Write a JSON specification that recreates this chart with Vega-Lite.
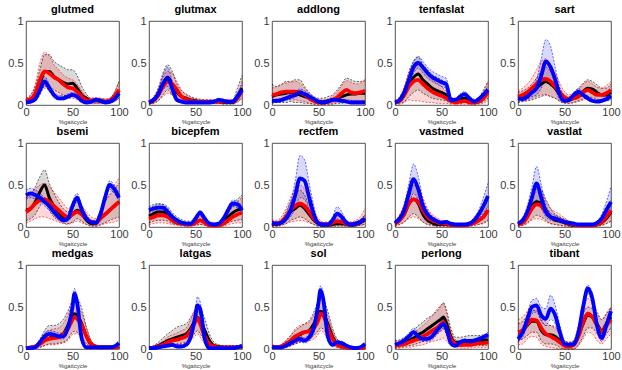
{
"$schema":"https://vega.github.io/schema/vega-lite/v6.json",
"background":"white",
"padding":{"left":7,"top":3,"right":2,"bottom":2},
"data":{"values":[
{"m":"glutmed","x":0,"k":0.05,"kl":0.02,"kh":0.08,"r":0.05,"rl":0.02,"rh":0.08,"b":0.03,"bl":0.02,"bh":0.04},
{"m":"glutmed","x":5,"k":0.07,"kl":0.03,"kh":0.12,"r":0.07,"rl":0.03,"rh":0.12,"b":0.04,"bl":0.03,"bh":0.06},
{"m":"glutmed","x":10,"k":0.12,"kl":0.05,"kh":0.22,"r":0.14,"rl":0.06,"rh":0.25,"b":0.07,"bl":0.05,"bh":0.10},
{"m":"glutmed","x":15,"k":0.25,"kl":0.12,"kh":0.42,"r":0.30,"rl":0.15,"rh":0.50,"b":0.18,"bl":0.14,"bh":0.23},
{"m":"glutmed","x":20,"k":0.40,"kl":0.22,"kh":0.60,"r":0.40,"rl":0.20,"rh":0.63,"b":0.28,"bl":0.23,"bh":0.34},
{"m":"glutmed","x":25,"k":0.40,"kl":0.22,"kh":0.60,"r":0.38,"rl":0.20,"rh":0.58,"b":0.20,"bl":0.16,"bh":0.25},
{"m":"glutmed","x":30,"k":0.34,"kl":0.18,"kh":0.52,"r":0.33,"rl":0.15,"rh":0.48,"b":0.12,"bl":0.09,"bh":0.15},
{"m":"glutmed","x":35,"k":0.30,"kl":0.15,"kh":0.48,"r":0.30,"rl":0.12,"rh":0.42,"b":0.08,"bl":0.06,"bh":0.11},
{"m":"glutmed","x":40,"k":0.27,"kl":0.12,"kh":0.45,"r":0.25,"rl":0.10,"rh":0.36,"b":0.08,"bl":0.06,"bh":0.11},
{"m":"glutmed","x":45,"k":0.25,"kl":0.10,"kh":0.42,"r":0.21,"rl":0.08,"rh":0.32,"b":0.10,"bl":0.08,"bh":0.13},
{"m":"glutmed","x":50,"k":0.26,"kl":0.10,"kh":0.42,"r":0.20,"rl":0.08,"rh":0.30,"b":0.12,"bl":0.10,"bh":0.15},
{"m":"glutmed","x":55,"k":0.20,"kl":0.08,"kh":0.35,"r":0.16,"rl":0.06,"rh":0.25,"b":0.10,"bl":0.08,"bh":0.12},
{"m":"glutmed","x":60,"k":0.12,"kl":0.05,"kh":0.22,"r":0.10,"rl":0.03,"rh":0.17,"b":0.05,"bl":0.04,"bh":0.07},
{"m":"glutmed","x":65,"k":0.08,"kl":0.03,"kh":0.13,"r":0.06,"rl":0.02,"rh":0.10,"b":0.03,"bl":0.02,"bh":0.05},
{"m":"glutmed","x":70,"k":0.05,"kl":0.02,"kh":0.08,"r":0.05,"rl":0.02,"rh":0.08,"b":0.04,"bl":0.03,"bh":0.06},
{"m":"glutmed","x":75,"k":0.05,"kl":0.02,"kh":0.08,"r":0.06,"rl":0.02,"rh":0.09,"b":0.06,"bl":0.05,"bh":0.08},
{"m":"glutmed","x":80,"k":0.05,"kl":0.02,"kh":0.08,"r":0.05,"rl":0.02,"rh":0.08,"b":0.05,"bl":0.04,"bh":0.07},
{"m":"glutmed","x":85,"k":0.04,"kl":0.02,"kh":0.07,"r":0.04,"rl":0.02,"rh":0.07,"b":0.03,"bl":0.02,"bh":0.05},
{"m":"glutmed","x":90,"k":0.05,"kl":0.02,"kh":0.08,"r":0.05,"rl":0.02,"rh":0.08,"b":0.04,"bl":0.03,"bh":0.06},
{"m":"glutmed","x":95,"k":0.09,"kl":0.04,"kh":0.15,"r":0.10,"rl":0.04,"rh":0.15,"b":0.07,"bl":0.05,"bh":0.10},
{"m":"glutmed","x":100,"k":0.17,"kl":0.08,"kh":0.28,"r":0.18,"rl":0.08,"rh":0.28,"b":0.14,"bl":0.11,"bh":0.18},
{"m":"glutmax","x":0,"k":0.03,"kl":0.01,"kh":0.05,"r":0.03,"rl":0.01,"rh":0.05,"b":0.03,"bl":0.02,"bh":0.04},
{"m":"glutmax","x":5,"k":0.05,"kl":0.02,"kh":0.09,"r":0.06,"rl":0.02,"rh":0.10,"b":0.06,"bl":0.04,"bh":0.08},
{"m":"glutmax","x":10,"k":0.12,"kl":0.05,"kh":0.20,"r":0.12,"rl":0.05,"rh":0.20,"b":0.13,"bl":0.09,"bh":0.18},
{"m":"glutmax","x":15,"k":0.25,"kl":0.12,"kh":0.38,"r":0.22,"rl":0.10,"rh":0.33,"b":0.25,"bl":0.18,"bh":0.35},
{"m":"glutmax","x":20,"k":0.33,"kl":0.18,"kh":0.48,"r":0.28,"rl":0.14,"rh":0.40,"b":0.32,"bl":0.22,"bh":0.45},
{"m":"glutmax","x":25,"k":0.25,"kl":0.12,"kh":0.40,"r":0.25,"rl":0.12,"rh":0.38,"b":0.20,"bl":0.14,"bh":0.28},
{"m":"glutmax","x":30,"k":0.15,"kl":0.07,"kh":0.25,"r":0.18,"rl":0.08,"rh":0.28,"b":0.06,"bl":0.04,"bh":0.09},
{"m":"glutmax","x":35,"k":0.10,"kl":0.04,"kh":0.17,"r":0.10,"rl":0.05,"rh":0.18,"b":0.04,"bl":0.03,"bh":0.06},
{"m":"glutmax","x":40,"k":0.08,"kl":0.03,"kh":0.13,"r":0.07,"rl":0.03,"rh":0.12,"b":0.03,"bl":0.02,"bh":0.04},
{"m":"glutmax","x":45,"k":0.06,"kl":0.02,"kh":0.10,"r":0.05,"rl":0.02,"rh":0.09,"b":0.03,"bl":0.02,"bh":0.04},
{"m":"glutmax","x":50,"k":0.05,"kl":0.02,"kh":0.08,"r":0.04,"rl":0.02,"rh":0.07,"b":0.03,"bl":0.02,"bh":0.04},
{"m":"glutmax","x":55,"k":0.04,"kl":0.02,"kh":0.07,"r":0.04,"rl":0.02,"rh":0.06,"b":0.03,"bl":0.02,"bh":0.04},
{"m":"glutmax","x":60,"k":0.04,"kl":0.02,"kh":0.06,"r":0.04,"rl":0.02,"rh":0.06,"b":0.03,"bl":0.02,"bh":0.04},
{"m":"glutmax","x":65,"k":0.04,"kl":0.02,"kh":0.06,"r":0.04,"rl":0.02,"rh":0.06,"b":0.03,"bl":0.02,"bh":0.04},
{"m":"glutmax","x":70,"k":0.04,"kl":0.02,"kh":0.06,"r":0.04,"rl":0.02,"rh":0.06,"b":0.04,"bl":0.03,"bh":0.05},
{"m":"glutmax","x":75,"k":0.04,"kl":0.02,"kh":0.06,"r":0.04,"rl":0.02,"rh":0.06,"b":0.06,"bl":0.05,"bh":0.08},
{"m":"glutmax","x":80,"k":0.03,"kl":0.01,"kh":0.05,"r":0.04,"rl":0.02,"rh":0.06,"b":0.05,"bl":0.04,"bh":0.07},
{"m":"glutmax","x":85,"k":0.03,"kl":0.01,"kh":0.05,"r":0.04,"rl":0.02,"rh":0.06,"b":0.04,"bl":0.03,"bh":0.05},
{"m":"glutmax","x":90,"k":0.03,"kl":0.01,"kh":0.06,"r":0.04,"rl":0.02,"rh":0.06,"b":0.04,"bl":0.03,"bh":0.06},
{"m":"glutmax","x":95,"k":0.10,"kl":0.04,"kh":0.20,"r":0.08,"rl":0.03,"rh":0.14,"b":0.10,"bl":0.07,"bh":0.14},
{"m":"glutmax","x":100,"k":0.20,"kl":0.08,"kh":0.35,"r":0.17,"rl":0.08,"rh":0.28,"b":0.18,"bl":0.13,"bh":0.24},
{"m":"addlong","x":0,"k":0.10,"kl":0.02,"kh":0.25,"r":0.12,"rl":0.04,"rh":0.20,"b":0.05,"bl":0.03,"bh":0.07},
{"m":"addlong","x":5,"k":0.12,"kl":0.03,"kh":0.22,"r":0.13,"rl":0.05,"rh":0.22,"b":0.05,"bl":0.03,"bh":0.07},
{"m":"addlong","x":10,"k":0.13,"kl":0.03,"kh":0.24,"r":0.15,"rl":0.06,"rh":0.25,"b":0.06,"bl":0.04,"bh":0.08},
{"m":"addlong","x":15,"k":0.14,"kl":0.03,"kh":0.28,"r":0.16,"rl":0.06,"rh":0.26,"b":0.08,"bl":0.06,"bh":0.10},
{"m":"addlong","x":20,"k":0.15,"kl":0.04,"kh":0.28,"r":0.16,"rl":0.06,"rh":0.27,"b":0.10,"bl":0.07,"bh":0.13},
{"m":"addlong","x":25,"k":0.14,"kl":0.03,"kh":0.30,"r":0.16,"rl":0.06,"rh":0.28,"b":0.12,"bl":0.09,"bh":0.15},
{"m":"addlong","x":30,"k":0.12,"kl":0.03,"kh":0.30,"r":0.15,"rl":0.05,"rh":0.26,"b":0.15,"bl":0.11,"bh":0.19},
{"m":"addlong","x":35,"k":0.10,"kl":0.02,"kh":0.22,"r":0.12,"rl":0.04,"rh":0.20,"b":0.13,"bl":0.10,"bh":0.17},
{"m":"addlong","x":40,"k":0.08,"kl":0.02,"kh":0.15,"r":0.08,"rl":0.02,"rh":0.14,"b":0.10,"bl":0.07,"bh":0.13},
{"m":"addlong","x":45,"k":0.05,"kl":0.01,"kh":0.10,"r":0.05,"rl":0.01,"rh":0.09,"b":0.07,"bl":0.05,"bh":0.09},
{"m":"addlong","x":50,"k":0.04,"kl":0.01,"kh":0.08,"r":0.03,"rl":0.01,"rh":0.06,"b":0.04,"bl":0.02,"bh":0.06},
{"m":"addlong","x":55,"k":0.04,"kl":0.01,"kh":0.08,"r":0.03,"rl":0.01,"rh":0.06,"b":0.03,"bl":0.02,"bh":0.05},
{"m":"addlong","x":60,"k":0.05,"kl":0.01,"kh":0.10,"r":0.04,"rl":0.01,"rh":0.07,"b":0.04,"bl":0.02,"bh":0.06},
{"m":"addlong","x":65,"k":0.06,"kl":0.01,"kh":0.12,"r":0.06,"rl":0.02,"rh":0.10,"b":0.06,"bl":0.04,"bh":0.08},
{"m":"addlong","x":70,"k":0.08,"kl":0.02,"kh":0.18,"r":0.09,"rl":0.03,"rh":0.15,"b":0.06,"bl":0.04,"bh":0.08},
{"m":"addlong","x":75,"k":0.10,"kl":0.02,"kh":0.25,"r":0.14,"rl":0.05,"rh":0.23,"b":0.05,"bl":0.03,"bh":0.07},
{"m":"addlong","x":80,"k":0.12,"kl":0.03,"kh":0.32,"r":0.18,"rl":0.07,"rh":0.29,"b":0.04,"bl":0.03,"bh":0.06},
{"m":"addlong","x":85,"k":0.13,"kl":0.03,"kh":0.30,"r":0.15,"rl":0.06,"rh":0.27,"b":0.03,"bl":0.02,"bh":0.05},
{"m":"addlong","x":90,"k":0.13,"kl":0.03,"kh":0.28,"r":0.14,"rl":0.05,"rh":0.25,"b":0.03,"bl":0.02,"bh":0.05},
{"m":"addlong","x":95,"k":0.14,"kl":0.03,"kh":0.28,"r":0.15,"rl":0.05,"rh":0.26,"b":0.03,"bl":0.02,"bh":0.05},
{"m":"addlong","x":100,"k":0.14,"kl":0.03,"kh":0.30,"r":0.17,"rl":0.06,"rh":0.29,"b":0.03,"bl":0.02,"bh":0.05},
{"m":"tenfaslat","x":0,"k":0.03,"kl":0.01,"kh":0.05,"r":0.03,"rl":0.01,"rh":0.06,"b":0.03,"bl":0.02,"bh":0.04},
{"m":"tenfaslat","x":5,"k":0.05,"kl":0.02,"kh":0.09,"r":0.05,"rl":0.01,"rh":0.10,"b":0.06,"bl":0.04,"bh":0.08},
{"m":"tenfaslat","x":10,"k":0.12,"kl":0.04,"kh":0.20,"r":0.12,"rl":0.03,"rh":0.22,"b":0.15,"bl":0.11,"bh":0.19},
{"m":"tenfaslat","x":15,"k":0.25,"kl":0.10,"kh":0.40,"r":0.22,"rl":0.06,"rh":0.38,"b":0.30,"bl":0.24,"bh":0.36},
{"m":"tenfaslat","x":20,"k":0.33,"kl":0.15,"kh":0.52,"r":0.28,"rl":0.05,"rh":0.48,"b":0.45,"bl":0.38,"bh":0.52},
{"m":"tenfaslat","x":25,"k":0.37,"kl":0.18,"kh":0.57,"r":0.30,"rl":0.05,"rh":0.50,"b":0.50,"bl":0.44,"bh":0.58},
{"m":"tenfaslat","x":30,"k":0.30,"kl":0.14,"kh":0.48,"r":0.25,"rl":0.04,"rh":0.42,"b":0.45,"bl":0.38,"bh":0.52},
{"m":"tenfaslat","x":35,"k":0.25,"kl":0.11,"kh":0.42,"r":0.20,"rl":0.03,"rh":0.36,"b":0.38,"bl":0.32,"bh":0.45},
{"m":"tenfaslat","x":40,"k":0.20,"kl":0.08,"kh":0.36,"r":0.16,"rl":0.03,"rh":0.30,"b":0.33,"bl":0.28,"bh":0.40},
{"m":"tenfaslat","x":45,"k":0.17,"kl":0.07,"kh":0.33,"r":0.13,"rl":0.02,"rh":0.26,"b":0.30,"bl":0.25,"bh":0.37},
{"m":"tenfaslat","x":50,"k":0.15,"kl":0.06,"kh":0.30,"r":0.11,"rl":0.02,"rh":0.22,"b":0.27,"bl":0.22,"bh":0.34},
{"m":"tenfaslat","x":55,"k":0.12,"kl":0.05,"kh":0.25,"r":0.08,"rl":0.02,"rh":0.16,"b":0.25,"bl":0.20,"bh":0.32},
{"m":"tenfaslat","x":60,"k":0.05,"kl":0.02,"kh":0.09,"r":0.05,"rl":0.01,"rh":0.09,"b":0.06,"bl":0.04,"bh":0.09},
{"m":"tenfaslat","x":65,"k":0.05,"kl":0.02,"kh":0.08,"r":0.03,"rl":0.01,"rh":0.06,"b":0.06,"bl":0.04,"bh":0.08},
{"m":"tenfaslat","x":70,"k":0.07,"kl":0.02,"kh":0.12,"r":0.04,"rl":0.01,"rh":0.08,"b":0.10,"bl":0.08,"bh":0.13},
{"m":"tenfaslat","x":75,"k":0.08,"kl":0.03,"kh":0.13,"r":0.05,"rl":0.01,"rh":0.09,"b":0.13,"bl":0.10,"bh":0.16},
{"m":"tenfaslat","x":80,"k":0.06,"kl":0.02,"kh":0.10,"r":0.03,"rl":0.01,"rh":0.06,"b":0.08,"bl":0.06,"bh":0.10},
{"m":"tenfaslat","x":85,"k":0.04,"kl":0.01,"kh":0.07,"r":0.03,"rl":0.01,"rh":0.06,"b":0.04,"bl":0.03,"bh":0.06},
{"m":"tenfaslat","x":90,"k":0.05,"kl":0.02,"kh":0.09,"r":0.04,"rl":0.01,"rh":0.08,"b":0.07,"bl":0.05,"bh":0.09},
{"m":"tenfaslat","x":95,"k":0.10,"kl":0.04,"kh":0.18,"r":0.08,"rl":0.02,"rh":0.15,"b":0.12,"bl":0.09,"bh":0.15},
{"m":"tenfaslat","x":100,"k":0.17,"kl":0.08,"kh":0.28,"r":0.15,"rl":0.05,"rh":0.28,"b":0.18,"bl":0.14,"bh":0.22},
{"m":"sart","x":0,"k":0.08,"kl":0.03,"kh":0.15,"r":0.10,"rl":0.04,"rh":0.17,"b":0.08,"bl":0.05,"bh":0.11},
{"m":"sart","x":5,"k":0.10,"kl":0.04,"kh":0.17,"r":0.12,"rl":0.05,"rh":0.20,"b":0.07,"bl":0.05,"bh":0.10},
{"m":"sart","x":10,"k":0.12,"kl":0.05,"kh":0.20,"r":0.15,"rl":0.06,"rh":0.25,"b":0.10,"bl":0.07,"bh":0.14},
{"m":"sart","x":15,"k":0.15,"kl":0.06,"kh":0.25,"r":0.20,"rl":0.08,"rh":0.32,"b":0.15,"bl":0.10,"bh":0.20},
{"m":"sart","x":20,"k":0.20,"kl":0.08,"kh":0.32,"r":0.25,"rl":0.10,"rh":0.42,"b":0.20,"bl":0.12,"bh":0.30},
{"m":"sart","x":25,"k":0.25,"kl":0.10,"kh":0.40,"r":0.30,"rl":0.12,"rh":0.52,"b":0.35,"bl":0.20,"bh":0.55},
{"m":"sart","x":30,"k":0.28,"kl":0.12,"kh":0.45,"r":0.31,"rl":0.12,"rh":0.55,"b":0.52,"bl":0.30,"bh":0.78},
{"m":"sart","x":35,"k":0.25,"kl":0.10,"kh":0.40,"r":0.28,"rl":0.10,"rh":0.48,"b":0.45,"bl":0.28,"bh":0.70},
{"m":"sart","x":40,"k":0.20,"kl":0.08,"kh":0.32,"r":0.22,"rl":0.08,"rh":0.38,"b":0.30,"bl":0.18,"bh":0.45},
{"m":"sart","x":45,"k":0.12,"kl":0.04,"kh":0.20,"r":0.15,"rl":0.05,"rh":0.26,"b":0.12,"bl":0.06,"bh":0.20},
{"m":"sart","x":50,"k":0.07,"kl":0.02,"kh":0.12,"r":0.09,"rl":0.03,"rh":0.16,"b":0.05,"bl":0.03,"bh":0.08},
{"m":"sart","x":55,"k":0.06,"kl":0.02,"kh":0.10,"r":0.07,"rl":0.02,"rh":0.12,"b":0.06,"bl":0.04,"bh":0.08},
{"m":"sart","x":60,"k":0.08,"kl":0.03,"kh":0.14,"r":0.08,"rl":0.03,"rh":0.14,"b":0.12,"bl":0.09,"bh":0.15},
{"m":"sart","x":65,"k":0.12,"kl":0.05,"kh":0.20,"r":0.10,"rl":0.04,"rh":0.17,"b":0.16,"bl":0.12,"bh":0.20},
{"m":"sart","x":70,"k":0.16,"kl":0.07,"kh":0.26,"r":0.15,"rl":0.06,"rh":0.25,"b":0.12,"bl":0.09,"bh":0.15},
{"m":"sart","x":75,"k":0.20,"kl":0.10,"kh":0.30,"r":0.18,"rl":0.08,"rh":0.28,"b":0.08,"bl":0.06,"bh":0.11},
{"m":"sart","x":80,"k":0.19,"kl":0.09,"kh":0.28,"r":0.15,"rl":0.06,"rh":0.25,"b":0.05,"bl":0.03,"bh":0.07},
{"m":"sart","x":85,"k":0.15,"kl":0.07,"kh":0.24,"r":0.12,"rl":0.05,"rh":0.21,"b":0.04,"bl":0.03,"bh":0.06},
{"m":"sart","x":90,"k":0.12,"kl":0.05,"kh":0.20,"r":0.12,"rl":0.05,"rh":0.20,"b":0.05,"bl":0.04,"bh":0.07},
{"m":"sart","x":95,"k":0.12,"kl":0.05,"kh":0.20,"r":0.14,"rl":0.06,"rh":0.23,"b":0.07,"bl":0.05,"bh":0.10},
{"m":"sart","x":100,"k":0.15,"kl":0.06,"kh":0.25,"r":0.18,"rl":0.08,"rh":0.28,"b":0.11,"bl":0.08,"bh":0.14},
{"m":"bsemi","x":0,"k":0.20,"kl":0.08,"kh":0.35,"r":0.18,"rl":0.05,"rh":0.35,"b":0.38,"bl":0.33,"bh":0.44},
{"m":"bsemi","x":5,"k":0.22,"kl":0.10,"kh":0.38,"r":0.22,"rl":0.07,"rh":0.40,"b":0.40,"bl":0.35,"bh":0.46},
{"m":"bsemi","x":10,"k":0.30,"kl":0.15,"kh":0.48,"r":0.28,"rl":0.10,"rh":0.46,"b":0.38,"bl":0.33,"bh":0.44},
{"m":"bsemi","x":15,"k":0.42,"kl":0.25,"kh":0.60,"r":0.32,"rl":0.12,"rh":0.50,"b":0.35,"bl":0.30,"bh":0.40},
{"m":"bsemi","x":20,"k":0.50,"kl":0.32,"kh":0.68,"r":0.33,"rl":0.12,"rh":0.52,"b":0.30,"bl":0.25,"bh":0.35},
{"m":"bsemi","x":25,"k":0.35,"kl":0.20,"kh":0.52,"r":0.30,"rl":0.10,"rh":0.48,"b":0.25,"bl":0.20,"bh":0.30},
{"m":"bsemi","x":30,"k":0.25,"kl":0.12,"kh":0.40,"r":0.25,"rl":0.08,"rh":0.42,"b":0.18,"bl":0.14,"bh":0.22},
{"m":"bsemi","x":35,"k":0.18,"kl":0.08,"kh":0.30,"r":0.20,"rl":0.06,"rh":0.35,"b":0.12,"bl":0.09,"bh":0.15},
{"m":"bsemi","x":40,"k":0.12,"kl":0.05,"kh":0.22,"r":0.15,"rl":0.04,"rh":0.28,"b":0.08,"bl":0.06,"bh":0.10},
{"m":"bsemi","x":45,"k":0.10,"kl":0.04,"kh":0.18,"r":0.12,"rl":0.03,"rh":0.22,"b":0.10,"bl":0.07,"bh":0.13},
{"m":"bsemi","x":50,"k":0.15,"kl":0.06,"kh":0.25,"r":0.15,"rl":0.05,"rh":0.26,"b":0.25,"bl":0.20,"bh":0.30},
{"m":"bsemi","x":55,"k":0.20,"kl":0.10,"kh":0.32,"r":0.18,"rl":0.07,"rh":0.30,"b":0.35,"bl":0.30,"bh":0.40},
{"m":"bsemi","x":60,"k":0.15,"kl":0.07,"kh":0.25,"r":0.15,"rl":0.05,"rh":0.26,"b":0.20,"bl":0.16,"bh":0.25},
{"m":"bsemi","x":65,"k":0.08,"kl":0.03,"kh":0.15,"r":0.10,"rl":0.03,"rh":0.18,"b":0.10,"bl":0.07,"bh":0.13},
{"m":"bsemi","x":70,"k":0.04,"kl":0.01,"kh":0.08,"r":0.06,"rl":0.02,"rh":0.12,"b":0.06,"bl":0.04,"bh":0.08},
{"m":"bsemi","x":75,"k":0.04,"kl":0.01,"kh":0.08,"r":0.05,"rl":0.01,"rh":0.10,"b":0.05,"bl":0.03,"bh":0.07},
{"m":"bsemi","x":80,"k":0.10,"kl":0.03,"kh":0.20,"r":0.10,"rl":0.02,"rh":0.20,"b":0.15,"bl":0.11,"bh":0.19},
{"m":"bsemi","x":85,"k":0.15,"kl":0.05,"kh":0.30,"r":0.15,"rl":0.04,"rh":0.30,"b":0.35,"bl":0.30,"bh":0.40},
{"m":"bsemi","x":90,"k":0.20,"kl":0.08,"kh":0.38,"r":0.20,"rl":0.05,"rh":0.40,"b":0.50,"bl":0.45,"bh":0.55},
{"m":"bsemi","x":95,"k":0.25,"kl":0.10,"kh":0.45,"r":0.25,"rl":0.06,"rh":0.50,"b":0.45,"bl":0.40,"bh":0.50},
{"m":"bsemi","x":100,"k":0.30,"kl":0.12,"kh":0.52,"r":0.30,"rl":0.08,"rh":0.58,"b":0.35,"bl":0.30,"bh":0.40},
{"m":"bicepfem","x":0,"k":0.13,"kl":0.05,"kh":0.22,"r":0.10,"rl":0.03,"rh":0.18,"b":0.20,"bl":0.17,"bh":0.24},
{"m":"bicepfem","x":5,"k":0.16,"kl":0.07,"kh":0.25,"r":0.12,"rl":0.04,"rh":0.20,"b":0.22,"bl":0.19,"bh":0.27},
{"m":"bicepfem","x":10,"k":0.18,"kl":0.08,"kh":0.27,"r":0.14,"rl":0.05,"rh":0.22,"b":0.23,"bl":0.19,"bh":0.28},
{"m":"bicepfem","x":15,"k":0.18,"kl":0.08,"kh":0.27,"r":0.14,"rl":0.05,"rh":0.22,"b":0.23,"bl":0.19,"bh":0.27},
{"m":"bicepfem","x":20,"k":0.15,"kl":0.07,"kh":0.24,"r":0.12,"rl":0.04,"rh":0.20,"b":0.18,"bl":0.15,"bh":0.22},
{"m":"bicepfem","x":25,"k":0.10,"kl":0.04,"kh":0.17,"r":0.08,"rl":0.03,"rh":0.14,"b":0.12,"bl":0.10,"bh":0.15},
{"m":"bicepfem","x":30,"k":0.07,"kl":0.03,"kh":0.12,"r":0.05,"rl":0.02,"rh":0.09,"b":0.08,"bl":0.06,"bh":0.10},
{"m":"bicepfem","x":35,"k":0.05,"kl":0.02,"kh":0.09,"r":0.04,"rl":0.01,"rh":0.07,"b":0.05,"bl":0.04,"bh":0.07},
{"m":"bicepfem","x":40,"k":0.04,"kl":0.02,"kh":0.07,"r":0.03,"rl":0.01,"rh":0.05,"b":0.04,"bl":0.03,"bh":0.05},
{"m":"bicepfem","x":45,"k":0.04,"kl":0.02,"kh":0.07,"r":0.03,"rl":0.01,"rh":0.05,"b":0.04,"bl":0.03,"bh":0.05},
{"m":"bicepfem","x":50,"k":0.06,"kl":0.02,"kh":0.10,"r":0.05,"rl":0.02,"rh":0.08,"b":0.10,"bl":0.08,"bh":0.12},
{"m":"bicepfem","x":55,"k":0.08,"kl":0.03,"kh":0.13,"r":0.08,"rl":0.03,"rh":0.12,"b":0.17,"bl":0.14,"bh":0.20},
{"m":"bicepfem","x":60,"k":0.06,"kl":0.02,"kh":0.10,"r":0.05,"rl":0.02,"rh":0.08,"b":0.10,"bl":0.08,"bh":0.12},
{"m":"bicepfem","x":65,"k":0.03,"kl":0.01,"kh":0.06,"r":0.02,"rl":0.01,"rh":0.04,"b":0.04,"bl":0.03,"bh":0.05},
{"m":"bicepfem","x":70,"k":0.02,"kl":0.01,"kh":0.04,"r":0.02,"rl":0.01,"rh":0.03,"b":0.03,"bl":0.02,"bh":0.04},
{"m":"bicepfem","x":75,"k":0.03,"kl":0.01,"kh":0.05,"r":0.02,"rl":0.01,"rh":0.04,"b":0.04,"bl":0.03,"bh":0.05},
{"m":"bicepfem","x":80,"k":0.06,"kl":0.02,"kh":0.10,"r":0.04,"rl":0.01,"rh":0.08,"b":0.10,"bl":0.08,"bh":0.12},
{"m":"bicepfem","x":85,"k":0.12,"kl":0.05,"kh":0.20,"r":0.08,"rl":0.03,"rh":0.16,"b":0.20,"bl":0.17,"bh":0.24},
{"m":"bicepfem","x":90,"k":0.17,"kl":0.07,"kh":0.28,"r":0.12,"rl":0.04,"rh":0.24,"b":0.28,"bl":0.24,"bh":0.32},
{"m":"bicepfem","x":95,"k":0.20,"kl":0.08,"kh":0.33,"r":0.15,"rl":0.05,"rh":0.30,"b":0.27,"bl":0.23,"bh":0.31},
{"m":"bicepfem","x":100,"k":0.22,"kl":0.09,"kh":0.38,"r":0.17,"rl":0.05,"rh":0.35,"b":0.20,"bl":0.17,"bh":0.24},
{"m":"rectfem","x":0,"k":0.03,"kl":0.01,"kh":0.06,"r":0.04,"rl":0.01,"rh":0.08,"b":0.05,"bl":0.03,"bh":0.07},
{"m":"rectfem","x":5,"k":0.03,"kl":0.01,"kh":0.06,"r":0.04,"rl":0.01,"rh":0.08,"b":0.04,"bl":0.03,"bh":0.06},
{"m":"rectfem","x":10,"k":0.05,"kl":0.02,"kh":0.09,"r":0.06,"rl":0.02,"rh":0.12,"b":0.05,"bl":0.04,"bh":0.07},
{"m":"rectfem","x":15,"k":0.10,"kl":0.04,"kh":0.18,"r":0.12,"rl":0.04,"rh":0.22,"b":0.10,"bl":0.07,"bh":0.14},
{"m":"rectfem","x":20,"k":0.18,"kl":0.08,"kh":0.30,"r":0.20,"rl":0.06,"rh":0.35,"b":0.20,"bl":0.12,"bh":0.30},
{"m":"rectfem","x":25,"k":0.22,"kl":0.10,"kh":0.38,"r":0.25,"rl":0.07,"rh":0.45,"b":0.38,"bl":0.22,"bh":0.55},
{"m":"rectfem","x":30,"k":0.26,"kl":0.12,"kh":0.44,"r":0.28,"rl":0.08,"rh":0.50,"b":0.58,"bl":0.35,"bh":0.85},
{"m":"rectfem","x":35,"k":0.22,"kl":0.10,"kh":0.38,"r":0.25,"rl":0.07,"rh":0.45,"b":0.55,"bl":0.33,"bh":0.80},
{"m":"rectfem","x":40,"k":0.15,"kl":0.06,"kh":0.26,"r":0.18,"rl":0.05,"rh":0.33,"b":0.35,"bl":0.20,"bh":0.52},
{"m":"rectfem","x":45,"k":0.08,"kl":0.03,"kh":0.14,"r":0.10,"rl":0.03,"rh":0.19,"b":0.15,"bl":0.08,"bh":0.25},
{"m":"rectfem","x":50,"k":0.04,"kl":0.01,"kh":0.07,"r":0.05,"rl":0.01,"rh":0.10,"b":0.04,"bl":0.02,"bh":0.06},
{"m":"rectfem","x":55,"k":0.02,"kl":0.01,"kh":0.04,"r":0.03,"rl":0.01,"rh":0.06,"b":0.03,"bl":0.02,"bh":0.04},
{"m":"rectfem","x":60,"k":0.02,"kl":0.01,"kh":0.04,"r":0.03,"rl":0.01,"rh":0.06,"b":0.03,"bl":0.02,"bh":0.05},
{"m":"rectfem","x":65,"k":0.03,"kl":0.01,"kh":0.06,"r":0.05,"rl":0.01,"rh":0.10,"b":0.08,"bl":0.05,"bh":0.12},
{"m":"rectfem","x":70,"k":0.04,"kl":0.01,"kh":0.07,"r":0.07,"rl":0.02,"rh":0.13,"b":0.16,"bl":0.10,"bh":0.24},
{"m":"rectfem","x":75,"k":0.04,"kl":0.01,"kh":0.07,"r":0.06,"rl":0.02,"rh":0.11,"b":0.12,"bl":0.08,"bh":0.18},
{"m":"rectfem","x":80,"k":0.03,"kl":0.01,"kh":0.06,"r":0.04,"rl":0.01,"rh":0.08,"b":0.05,"bl":0.03,"bh":0.08},
{"m":"rectfem","x":85,"k":0.02,"kl":0.01,"kh":0.04,"r":0.03,"rl":0.01,"rh":0.06,"b":0.03,"bl":0.02,"bh":0.05},
{"m":"rectfem","x":90,"k":0.03,"kl":0.01,"kh":0.06,"r":0.04,"rl":0.01,"rh":0.08,"b":0.04,"bl":0.03,"bh":0.06},
{"m":"rectfem","x":95,"k":0.05,"kl":0.02,"kh":0.09,"r":0.06,"rl":0.02,"rh":0.12,"b":0.06,"bl":0.04,"bh":0.09},
{"m":"rectfem","x":100,"k":0.08,"kl":0.03,"kh":0.15,"r":0.10,"rl":0.03,"rh":0.22,"b":0.10,"bl":0.07,"bh":0.14},
{"m":"vastmed","x":0,"k":0.04,"kl":0.01,"kh":0.07,"r":0.04,"rl":0.01,"rh":0.08,"b":0.05,"bl":0.03,"bh":0.07},
{"m":"vastmed","x":5,"k":0.08,"kl":0.03,"kh":0.14,"r":0.08,"rl":0.03,"rh":0.14,"b":0.10,"bl":0.07,"bh":0.13},
{"m":"vastmed","x":10,"k":0.15,"kl":0.06,"kh":0.26,"r":0.16,"rl":0.06,"rh":0.28,"b":0.20,"bl":0.14,"bh":0.26},
{"m":"vastmed","x":15,"k":0.28,"kl":0.12,"kh":0.42,"r":0.28,"rl":0.10,"rh":0.44,"b":0.40,"bl":0.28,"bh":0.52},
{"m":"vastmed","x":20,"k":0.33,"kl":0.16,"kh":0.50,"r":0.33,"rl":0.12,"rh":0.50,"b":0.57,"bl":0.40,"bh":0.75},
{"m":"vastmed","x":25,"k":0.28,"kl":0.12,"kh":0.44,"r":0.30,"rl":0.10,"rh":0.48,"b":0.45,"bl":0.32,"bh":0.60},
{"m":"vastmed","x":30,"k":0.15,"kl":0.06,"kh":0.28,"r":0.20,"rl":0.06,"rh":0.35,"b":0.25,"bl":0.17,"bh":0.33},
{"m":"vastmed","x":35,"k":0.08,"kl":0.03,"kh":0.16,"r":0.12,"rl":0.03,"rh":0.22,"b":0.15,"bl":0.10,"bh":0.20},
{"m":"vastmed","x":40,"k":0.05,"kl":0.02,"kh":0.10,"r":0.08,"rl":0.02,"rh":0.15,"b":0.10,"bl":0.07,"bh":0.13},
{"m":"vastmed","x":45,"k":0.03,"kl":0.01,"kh":0.07,"r":0.06,"rl":0.01,"rh":0.11,"b":0.07,"bl":0.05,"bh":0.09},
{"m":"vastmed","x":50,"k":0.03,"kl":0.01,"kh":0.06,"r":0.04,"rl":0.01,"rh":0.08,"b":0.05,"bl":0.03,"bh":0.07},
{"m":"vastmed","x":55,"k":0.03,"kl":0.01,"kh":0.06,"r":0.04,"rl":0.01,"rh":0.07,"b":0.06,"bl":0.04,"bh":0.08},
{"m":"vastmed","x":60,"k":0.02,"kl":0.01,"kh":0.04,"r":0.03,"rl":0.01,"rh":0.05,"b":0.04,"bl":0.03,"bh":0.05},
{"m":"vastmed","x":65,"k":0.02,"kl":0.01,"kh":0.04,"r":0.02,"rl":0.01,"rh":0.04,"b":0.03,"bl":0.02,"bh":0.04},
{"m":"vastmed","x":70,"k":0.02,"kl":0.01,"kh":0.04,"r":0.02,"rl":0.01,"rh":0.04,"b":0.03,"bl":0.02,"bh":0.04},
{"m":"vastmed","x":75,"k":0.02,"kl":0.01,"kh":0.04,"r":0.02,"rl":0.01,"rh":0.04,"b":0.03,"bl":0.02,"bh":0.04},
{"m":"vastmed","x":80,"k":0.03,"kl":0.01,"kh":0.06,"r":0.03,"rl":0.01,"rh":0.06,"b":0.04,"bl":0.03,"bh":0.05},
{"m":"vastmed","x":85,"k":0.05,"kl":0.02,"kh":0.09,"r":0.05,"rl":0.02,"rh":0.09,"b":0.08,"bl":0.05,"bh":0.11},
{"m":"vastmed","x":90,"k":0.08,"kl":0.03,"kh":0.14,"r":0.08,"rl":0.03,"rh":0.14,"b":0.15,"bl":0.10,"bh":0.20},
{"m":"vastmed","x":95,"k":0.12,"kl":0.05,"kh":0.22,"r":0.12,"rl":0.04,"rh":0.22,"b":0.25,"bl":0.17,"bh":0.35},
{"m":"vastmed","x":100,"k":0.20,"kl":0.08,"kh":0.32,"r":0.20,"rl":0.07,"rh":0.34,"b":0.37,"bl":0.25,"bh":0.52},
{"m":"vastlat","x":0,"k":0.03,"kl":0.01,"kh":0.05,"r":0.03,"rl":0.01,"rh":0.06,"b":0.04,"bl":0.02,"bh":0.06},
{"m":"vastlat","x":5,"k":0.06,"kl":0.02,"kh":0.10,"r":0.05,"rl":0.02,"rh":0.09,"b":0.08,"bl":0.05,"bh":0.11},
{"m":"vastlat","x":10,"k":0.13,"kl":0.05,"kh":0.22,"r":0.12,"rl":0.04,"rh":0.20,"b":0.18,"bl":0.12,"bh":0.25},
{"m":"vastlat","x":15,"k":0.25,"kl":0.10,"kh":0.38,"r":0.22,"rl":0.08,"rh":0.35,"b":0.35,"bl":0.24,"bh":0.48},
{"m":"vastlat","x":20,"k":0.30,"kl":0.14,"kh":0.45,"r":0.27,"rl":0.10,"rh":0.42,"b":0.52,"bl":0.32,"bh":0.72},
{"m":"vastlat","x":25,"k":0.28,"kl":0.12,"kh":0.44,"r":0.25,"rl":0.09,"rh":0.40,"b":0.35,"bl":0.22,"bh":0.50},
{"m":"vastlat","x":30,"k":0.20,"kl":0.08,"kh":0.33,"r":0.18,"rl":0.06,"rh":0.30,"b":0.18,"bl":0.12,"bh":0.26},
{"m":"vastlat","x":35,"k":0.12,"kl":0.04,"kh":0.22,"r":0.12,"rl":0.04,"rh":0.22,"b":0.12,"bl":0.08,"bh":0.17},
{"m":"vastlat","x":40,"k":0.08,"kl":0.03,"kh":0.15,"r":0.10,"rl":0.03,"rh":0.18,"b":0.10,"bl":0.07,"bh":0.14},
{"m":"vastlat","x":45,"k":0.07,"kl":0.02,"kh":0.12,"r":0.08,"rl":0.02,"rh":0.15,"b":0.08,"bl":0.05,"bh":0.11},
{"m":"vastlat","x":50,"k":0.05,"kl":0.01,"kh":0.09,"r":0.06,"rl":0.02,"rh":0.11,"b":0.06,"bl":0.04,"bh":0.09},
{"m":"vastlat","x":55,"k":0.03,"kl":0.01,"kh":0.06,"r":0.04,"rl":0.01,"rh":0.07,"b":0.05,"bl":0.03,"bh":0.07},
{"m":"vastlat","x":60,"k":0.02,"kl":0.01,"kh":0.04,"r":0.03,"rl":0.01,"rh":0.05,"b":0.04,"bl":0.03,"bh":0.06},
{"m":"vastlat","x":65,"k":0.02,"kl":0.01,"kh":0.04,"r":0.02,"rl":0.01,"rh":0.04,"b":0.03,"bl":0.02,"bh":0.04},
{"m":"vastlat","x":70,"k":0.02,"kl":0.01,"kh":0.04,"r":0.02,"rl":0.01,"rh":0.04,"b":0.03,"bl":0.02,"bh":0.04},
{"m":"vastlat","x":75,"k":0.02,"kl":0.01,"kh":0.04,"r":0.02,"rl":0.01,"rh":0.04,"b":0.03,"bl":0.02,"bh":0.04},
{"m":"vastlat","x":80,"k":0.02,"kl":0.01,"kh":0.04,"r":0.02,"rl":0.01,"rh":0.04,"b":0.03,"bl":0.02,"bh":0.04},
{"m":"vastlat","x":85,"k":0.03,"kl":0.01,"kh":0.06,"r":0.03,"rl":0.01,"rh":0.06,"b":0.05,"bl":0.03,"bh":0.07},
{"m":"vastlat","x":90,"k":0.05,"kl":0.02,"kh":0.09,"r":0.06,"rl":0.02,"rh":0.10,"b":0.10,"bl":0.06,"bh":0.15},
{"m":"vastlat","x":95,"k":0.10,"kl":0.04,"kh":0.18,"r":0.12,"rl":0.04,"rh":0.20,"b":0.20,"bl":0.12,"bh":0.30},
{"m":"vastlat","x":100,"k":0.18,"kl":0.07,"kh":0.30,"r":0.20,"rl":0.07,"rh":0.32,"b":0.30,"bl":0.18,"bh":0.48},
{"m":"medgas","x":0,"k":0.01,"kl":0.00,"kh":0.02,"r":0.01,"rl":0.00,"rh":0.02,"b":0.01,"bl":0.00,"bh":0.02},
{"m":"medgas","x":5,"k":0.02,"kl":0.01,"kh":0.03,"r":0.02,"rl":0.01,"rh":0.03,"b":0.01,"bl":0.00,"bh":0.02},
{"m":"medgas","x":10,"k":0.03,"kl":0.01,"kh":0.05,"r":0.03,"rl":0.01,"rh":0.05,"b":0.02,"bl":0.01,"bh":0.04},
{"m":"medgas","x":15,"k":0.06,"kl":0.02,"kh":0.12,"r":0.06,"rl":0.02,"rh":0.10,"b":0.08,"bl":0.05,"bh":0.11},
{"m":"medgas","x":20,"k":0.10,"kl":0.04,"kh":0.22,"r":0.10,"rl":0.04,"rh":0.18,"b":0.15,"bl":0.12,"bh":0.19},
{"m":"medgas","x":25,"k":0.13,"kl":0.06,"kh":0.28,"r":0.12,"rl":0.05,"rh":0.22,"b":0.18,"bl":0.15,"bh":0.22},
{"m":"medgas","x":30,"k":0.14,"kl":0.06,"kh":0.28,"r":0.13,"rl":0.05,"rh":0.24,"b":0.17,"bl":0.14,"bh":0.21},
{"m":"medgas","x":35,"k":0.15,"kl":0.07,"kh":0.30,"r":0.14,"rl":0.06,"rh":0.25,"b":0.15,"bl":0.12,"bh":0.19},
{"m":"medgas","x":40,"k":0.18,"kl":0.08,"kh":0.35,"r":0.17,"rl":0.07,"rh":0.30,"b":0.15,"bl":0.12,"bh":0.19},
{"m":"medgas","x":45,"k":0.28,"kl":0.12,"kh":0.45,"r":0.24,"rl":0.10,"rh":0.40,"b":0.25,"bl":0.21,"bh":0.30},
{"m":"medgas","x":50,"k":0.40,"kl":0.20,"kh":0.58,"r":0.35,"rl":0.17,"rh":0.53,"b":0.50,"bl":0.45,"bh":0.56},
{"m":"medgas","x":52,"k":0.42,"kl":0.21,"kh":0.60,"r":0.38,"rl":0.18,"rh":0.55,"b":0.66,"bl":0.60,"bh":0.72},
{"m":"medgas","x":55,"k":0.40,"kl":0.20,"kh":0.60,"r":0.36,"rl":0.18,"rh":0.53,"b":0.55,"bl":0.49,"bh":0.62},
{"m":"medgas","x":60,"k":0.30,"kl":0.14,"kh":0.48,"r":0.28,"rl":0.12,"rh":0.42,"b":0.12,"bl":0.08,"bh":0.16},
{"m":"medgas","x":65,"k":0.15,"kl":0.06,"kh":0.26,"r":0.15,"rl":0.06,"rh":0.25,"b":0.02,"bl":0.01,"bh":0.04},
{"m":"medgas","x":70,"k":0.05,"kl":0.02,"kh":0.10,"r":0.06,"rl":0.02,"rh":0.10,"b":0.02,"bl":0.01,"bh":0.03},
{"m":"medgas","x":75,"k":0.03,"kl":0.01,"kh":0.05,"r":0.03,"rl":0.01,"rh":0.05,"b":0.02,"bl":0.01,"bh":0.03},
{"m":"medgas","x":80,"k":0.02,"kl":0.01,"kh":0.04,"r":0.02,"rl":0.01,"rh":0.04,"b":0.02,"bl":0.01,"bh":0.03},
{"m":"medgas","x":85,"k":0.02,"kl":0.01,"kh":0.04,"r":0.02,"rl":0.01,"rh":0.04,"b":0.02,"bl":0.01,"bh":0.03},
{"m":"medgas","x":90,"k":0.02,"kl":0.01,"kh":0.04,"r":0.02,"rl":0.01,"rh":0.04,"b":0.02,"bl":0.01,"bh":0.03},
{"m":"medgas","x":95,"k":0.02,"kl":0.01,"kh":0.04,"r":0.02,"rl":0.01,"rh":0.04,"b":0.03,"bl":0.02,"bh":0.05},
{"m":"medgas","x":100,"k":0.03,"kl":0.01,"kh":0.06,"r":0.03,"rl":0.01,"rh":0.06,"b":0.07,"bl":0.05,"bh":0.10},
{"m":"latgas","x":0,"k":0.01,"kl":0.00,"kh":0.02,"r":0.01,"rl":0.00,"rh":0.02,"b":0.01,"bl":0.00,"bh":0.02},
{"m":"latgas","x":5,"k":0.02,"kl":0.01,"kh":0.04,"r":0.01,"rl":0.00,"rh":0.03,"b":0.01,"bl":0.00,"bh":0.02},
{"m":"latgas","x":10,"k":0.04,"kl":0.01,"kh":0.08,"r":0.03,"rl":0.01,"rh":0.06,"b":0.02,"bl":0.01,"bh":0.03},
{"m":"latgas","x":15,"k":0.07,"kl":0.02,"kh":0.13,"r":0.05,"rl":0.02,"rh":0.09,"b":0.03,"bl":0.02,"bh":0.05},
{"m":"latgas","x":20,"k":0.10,"kl":0.04,"kh":0.18,"r":0.08,"rl":0.03,"rh":0.14,"b":0.04,"bl":0.03,"bh":0.06},
{"m":"latgas","x":25,"k":0.12,"kl":0.05,"kh":0.22,"r":0.10,"rl":0.04,"rh":0.17,"b":0.05,"bl":0.03,"bh":0.07},
{"m":"latgas","x":30,"k":0.14,"kl":0.06,"kh":0.26,"r":0.11,"rl":0.05,"rh":0.19,"b":0.03,"bl":0.02,"bh":0.05},
{"m":"latgas","x":35,"k":0.16,"kl":0.07,"kh":0.28,"r":0.13,"rl":0.06,"rh":0.22,"b":0.03,"bl":0.02,"bh":0.05},
{"m":"latgas","x":40,"k":0.18,"kl":0.08,"kh":0.30,"r":0.15,"rl":0.07,"rh":0.25,"b":0.05,"bl":0.03,"bh":0.07},
{"m":"latgas","x":45,"k":0.25,"kl":0.12,"kh":0.38,"r":0.22,"rl":0.10,"rh":0.35,"b":0.15,"bl":0.11,"bh":0.20},
{"m":"latgas","x":50,"k":0.35,"kl":0.20,"kh":0.48,"r":0.33,"rl":0.16,"rh":0.48,"b":0.40,"bl":0.33,"bh":0.48},
{"m":"latgas","x":52,"k":0.38,"kl":0.22,"kh":0.52,"r":0.37,"rl":0.18,"rh":0.52,"b":0.52,"bl":0.44,"bh":0.62},
{"m":"latgas","x":55,"k":0.33,"kl":0.18,"kh":0.48,"r":0.30,"rl":0.14,"rh":0.44,"b":0.48,"bl":0.40,"bh":0.56},
{"m":"latgas","x":60,"k":0.22,"kl":0.10,"kh":0.36,"r":0.15,"rl":0.06,"rh":0.25,"b":0.12,"bl":0.08,"bh":0.17},
{"m":"latgas","x":65,"k":0.10,"kl":0.04,"kh":0.18,"r":0.06,"rl":0.02,"rh":0.10,"b":0.01,"bl":0.00,"bh":0.02},
{"m":"latgas","x":70,"k":0.04,"kl":0.01,"kh":0.08,"r":0.03,"rl":0.01,"rh":0.05,"b":0.01,"bl":0.00,"bh":0.02},
{"m":"latgas","x":75,"k":0.03,"kl":0.01,"kh":0.05,"r":0.02,"rl":0.01,"rh":0.04,"b":0.01,"bl":0.00,"bh":0.02},
{"m":"latgas","x":80,"k":0.02,"kl":0.01,"kh":0.04,"r":0.02,"rl":0.01,"rh":0.04,"b":0.01,"bl":0.00,"bh":0.02},
{"m":"latgas","x":85,"k":0.02,"kl":0.01,"kh":0.04,"r":0.02,"rl":0.01,"rh":0.04,"b":0.01,"bl":0.00,"bh":0.02},
{"m":"latgas","x":90,"k":0.02,"kl":0.01,"kh":0.04,"r":0.02,"rl":0.01,"rh":0.04,"b":0.01,"bl":0.00,"bh":0.02},
{"m":"latgas","x":95,"k":0.02,"kl":0.01,"kh":0.04,"r":0.02,"rl":0.01,"rh":0.04,"b":0.02,"bl":0.01,"bh":0.03},
{"m":"latgas","x":100,"k":0.03,"kl":0.01,"kh":0.05,"r":0.03,"rl":0.01,"rh":0.05,"b":0.04,"bl":0.02,"bh":0.06},
{"m":"sol","x":0,"k":0.02,"kl":0.01,"kh":0.03,"r":0.03,"rl":0.01,"rh":0.05,"b":0.02,"bl":0.01,"bh":0.03},
{"m":"sol","x":5,"k":0.02,"kl":0.01,"kh":0.03,"r":0.02,"rl":0.01,"rh":0.04,"b":0.02,"bl":0.01,"bh":0.03},
{"m":"sol","x":10,"k":0.03,"kl":0.01,"kh":0.05,"r":0.03,"rl":0.01,"rh":0.05,"b":0.02,"bl":0.01,"bh":0.03},
{"m":"sol","x":15,"k":0.06,"kl":0.02,"kh":0.10,"r":0.06,"rl":0.02,"rh":0.10,"b":0.04,"bl":0.02,"bh":0.06},
{"m":"sol","x":20,"k":0.10,"kl":0.04,"kh":0.16,"r":0.10,"rl":0.04,"rh":0.16,"b":0.07,"bl":0.04,"bh":0.10},
{"m":"sol","x":25,"k":0.14,"kl":0.06,"kh":0.22,"r":0.15,"rl":0.06,"rh":0.24,"b":0.10,"bl":0.07,"bh":0.13},
{"m":"sol","x":30,"k":0.17,"kl":0.08,"kh":0.26,"r":0.18,"rl":0.08,"rh":0.28,"b":0.12,"bl":0.09,"bh":0.16},
{"m":"sol","x":35,"k":0.20,"kl":0.10,"kh":0.30,"r":0.20,"rl":0.09,"rh":0.30,"b":0.10,"bl":0.07,"bh":0.13},
{"m":"sol","x":40,"k":0.22,"kl":0.12,"kh":0.34,"r":0.21,"rl":0.10,"rh":0.32,"b":0.14,"bl":0.10,"bh":0.18},
{"m":"sol","x":45,"k":0.30,"kl":0.16,"kh":0.44,"r":0.25,"rl":0.12,"rh":0.40,"b":0.25,"bl":0.20,"bh":0.30},
{"m":"sol","x":50,"k":0.42,"kl":0.22,"kh":0.58,"r":0.35,"rl":0.18,"rh":0.52,"b":0.55,"bl":0.48,"bh":0.62},
{"m":"sol","x":52,"k":0.45,"kl":0.25,"kh":0.62,"r":0.42,"rl":0.22,"rh":0.58,"b":0.70,"bl":0.64,"bh":0.75},
{"m":"sol","x":55,"k":0.43,"kl":0.24,"kh":0.60,"r":0.40,"rl":0.20,"rh":0.56,"b":0.60,"bl":0.53,"bh":0.68},
{"m":"sol","x":60,"k":0.30,"kl":0.15,"kh":0.45,"r":0.25,"rl":0.12,"rh":0.40,"b":0.15,"bl":0.10,"bh":0.20},
{"m":"sol","x":65,"k":0.15,"kl":0.06,"kh":0.25,"r":0.12,"rl":0.05,"rh":0.22,"b":0.05,"bl":0.03,"bh":0.07},
{"m":"sol","x":70,"k":0.06,"kl":0.02,"kh":0.12,"r":0.05,"rl":0.02,"rh":0.10,"b":0.08,"bl":0.06,"bh":0.10},
{"m":"sol","x":75,"k":0.03,"kl":0.01,"kh":0.06,"r":0.03,"rl":0.01,"rh":0.06,"b":0.07,"bl":0.05,"bh":0.09},
{"m":"sol","x":80,"k":0.02,"kl":0.01,"kh":0.04,"r":0.02,"rl":0.01,"rh":0.04,"b":0.04,"bl":0.02,"bh":0.06},
{"m":"sol","x":85,"k":0.01,"kl":0.00,"kh":0.02,"r":0.01,"rl":0.00,"rh":0.02,"b":0.02,"bl":0.01,"bh":0.03},
{"m":"sol","x":90,"k":0.01,"kl":0.00,"kh":0.02,"r":0.01,"rl":0.00,"rh":0.02,"b":0.01,"bl":0.00,"bh":0.02},
{"m":"sol","x":95,"k":0.01,"kl":0.00,"kh":0.03,"r":0.01,"rl":0.00,"rh":0.03,"b":0.02,"bl":0.01,"bh":0.03},
{"m":"sol","x":100,"k":0.02,"kl":0.01,"kh":0.04,"r":0.02,"rl":0.01,"rh":0.04,"b":0.06,"bl":0.04,"bh":0.08},
{"m":"perlong","x":0,"k":0.05,"kl":0.01,"kh":0.10,"r":0.04,"rl":0.01,"rh":0.08,"b":0.05,"bl":0.03,"bh":0.07},
{"m":"perlong","x":5,"k":0.06,"kl":0.02,"kh":0.11,"r":0.05,"rl":0.01,"rh":0.10,"b":0.07,"bl":0.05,"bh":0.09},
{"m":"perlong","x":10,"k":0.08,"kl":0.03,"kh":0.14,"r":0.06,"rl":0.02,"rh":0.12,"b":0.10,"bl":0.07,"bh":0.13},
{"m":"perlong","x":15,"k":0.10,"kl":0.04,"kh":0.17,"r":0.08,"rl":0.02,"rh":0.15,"b":0.15,"bl":0.11,"bh":0.19},
{"m":"perlong","x":20,"k":0.13,"kl":0.05,"kh":0.22,"r":0.10,"rl":0.03,"rh":0.19,"b":0.20,"bl":0.15,"bh":0.25},
{"m":"perlong","x":25,"k":0.17,"kl":0.07,"kh":0.28,"r":0.12,"rl":0.04,"rh":0.23,"b":0.15,"bl":0.11,"bh":0.19},
{"m":"perlong","x":30,"k":0.20,"kl":0.09,"kh":0.32,"r":0.15,"rl":0.05,"rh":0.28,"b":0.12,"bl":0.09,"bh":0.15},
{"m":"perlong","x":35,"k":0.24,"kl":0.12,"kh":0.37,"r":0.18,"rl":0.07,"rh":0.33,"b":0.12,"bl":0.09,"bh":0.15},
{"m":"perlong","x":40,"k":0.28,"kl":0.15,"kh":0.40,"r":0.22,"rl":0.09,"rh":0.40,"b":0.15,"bl":0.11,"bh":0.19},
{"m":"perlong","x":45,"k":0.32,"kl":0.18,"kh":0.45,"r":0.25,"rl":0.10,"rh":0.47,"b":0.22,"bl":0.17,"bh":0.27},
{"m":"perlong","x":50,"k":0.36,"kl":0.22,"kh":0.52,"r":0.30,"rl":0.12,"rh":0.53,"b":0.28,"bl":0.23,"bh":0.33},
{"m":"perlong","x":52,"k":0.38,"kl":0.24,"kh":0.55,"r":0.32,"rl":0.13,"rh":0.55,"b":0.30,"bl":0.25,"bh":0.36},
{"m":"perlong","x":55,"k":0.32,"kl":0.18,"kh":0.48,"r":0.25,"rl":0.10,"rh":0.45,"b":0.25,"bl":0.20,"bh":0.30},
{"m":"perlong","x":60,"k":0.15,"kl":0.07,"kh":0.25,"r":0.12,"rl":0.04,"rh":0.22,"b":0.07,"bl":0.04,"bh":0.10},
{"m":"perlong","x":65,"k":0.08,"kl":0.03,"kh":0.14,"r":0.06,"rl":0.02,"rh":0.11,"b":0.04,"bl":0.02,"bh":0.06},
{"m":"perlong","x":70,"k":0.08,"kl":0.03,"kh":0.14,"r":0.05,"rl":0.01,"rh":0.09,"b":0.08,"bl":0.06,"bh":0.10},
{"m":"perlong","x":75,"k":0.09,"kl":0.04,"kh":0.15,"r":0.05,"rl":0.01,"rh":0.09,"b":0.10,"bl":0.08,"bh":0.12},
{"m":"perlong","x":80,"k":0.10,"kl":0.04,"kh":0.16,"r":0.05,"rl":0.01,"rh":0.09,"b":0.09,"bl":0.07,"bh":0.11},
{"m":"perlong","x":85,"k":0.10,"kl":0.04,"kh":0.16,"r":0.06,"rl":0.02,"rh":0.10,"b":0.10,"bl":0.08,"bh":0.12},
{"m":"perlong","x":90,"k":0.10,"kl":0.04,"kh":0.16,"r":0.07,"rl":0.02,"rh":0.12,"b":0.12,"bl":0.10,"bh":0.14},
{"m":"perlong","x":95,"k":0.10,"kl":0.04,"kh":0.17,"r":0.07,"rl":0.02,"rh":0.12,"b":0.14,"bl":0.12,"bh":0.16},
{"m":"perlong","x":100,"k":0.11,"kl":0.05,"kh":0.18,"r":0.08,"rl":0.02,"rh":0.14,"b":0.17,"bl":0.14,"bh":0.20},
{"m":"tibant","x":0,"k":0.20,"kl":0.10,"kh":0.30,"r":0.20,"rl":0.05,"rh":0.35,"b":0.12,"bl":0.08,"bh":0.16},
{"m":"tibant","x":5,"k":0.22,"kl":0.12,"kh":0.33,"r":0.22,"rl":0.06,"rh":0.38,"b":0.20,"bl":0.14,"bh":0.26},
{"m":"tibant","x":10,"k":0.28,"kl":0.16,"kh":0.40,"r":0.30,"rl":0.12,"rh":0.45,"b":0.35,"bl":0.28,"bh":0.42},
{"m":"tibant","x":15,"k":0.33,"kl":0.20,"kh":0.46,"r":0.35,"rl":0.15,"rh":0.52,"b":0.50,"bl":0.42,"bh":0.58},
{"m":"tibant","x":20,"k":0.33,"kl":0.20,"kh":0.46,"r":0.34,"rl":0.14,"rh":0.52,"b":0.52,"bl":0.44,"bh":0.60},
{"m":"tibant","x":25,"k":0.22,"kl":0.10,"kh":0.35,"r":0.25,"rl":0.06,"rh":0.42,"b":0.40,"bl":0.33,"bh":0.50},
{"m":"tibant","x":30,"k":0.17,"kl":0.06,"kh":0.28,"r":0.18,"rl":0.03,"rh":0.32,"b":0.36,"bl":0.28,"bh":0.48},
{"m":"tibant","x":35,"k":0.17,"kl":0.06,"kh":0.28,"r":0.15,"rl":0.02,"rh":0.28,"b":0.48,"bl":0.35,"bh":0.64},
{"m":"tibant","x":40,"k":0.15,"kl":0.05,"kh":0.26,"r":0.12,"rl":0.01,"rh":0.24,"b":0.40,"bl":0.30,"bh":0.52},
{"m":"tibant","x":45,"k":0.10,"kl":0.02,"kh":0.20,"r":0.08,"rl":0.00,"rh":0.18,"b":0.20,"bl":0.14,"bh":0.28},
{"m":"tibant","x":50,"k":0.05,"kl":0.00,"kh":0.10,"r":0.04,"rl":0.00,"rh":0.10,"b":0.06,"bl":0.03,"bh":0.09},
{"m":"tibant","x":55,"k":0.04,"kl":0.00,"kh":0.08,"r":0.03,"rl":0.00,"rh":0.07,"b":0.05,"bl":0.02,"bh":0.08},
{"m":"tibant","x":60,"k":0.05,"kl":0.00,"kh":0.10,"r":0.05,"rl":0.00,"rh":0.10,"b":0.06,"bl":0.03,"bh":0.09},
{"m":"tibant","x":65,"k":0.15,"kl":0.05,"kh":0.25,"r":0.15,"rl":0.04,"rh":0.28,"b":0.20,"bl":0.14,"bh":0.26},
{"m":"tibant","x":70,"k":0.30,"kl":0.15,"kh":0.42,"r":0.32,"rl":0.12,"rh":0.48,"b":0.50,"bl":0.42,"bh":0.58},
{"m":"tibant","x":75,"k":0.40,"kl":0.25,"kh":0.50,"r":0.42,"rl":0.20,"rh":0.60,"b":0.72,"bl":0.66,"bh":0.76},
{"m":"tibant","x":80,"k":0.38,"kl":0.25,"kh":0.48,"r":0.38,"rl":0.18,"rh":0.55,"b":0.60,"bl":0.53,"bh":0.66},
{"m":"tibant","x":85,"k":0.30,"kl":0.18,"kh":0.42,"r":0.28,"rl":0.10,"rh":0.45,"b":0.28,"bl":0.22,"bh":0.34},
{"m":"tibant","x":90,"k":0.22,"kl":0.12,"kh":0.35,"r":0.20,"rl":0.06,"rh":0.35,"b":0.13,"bl":0.09,"bh":0.18},
{"m":"tibant","x":95,"k":0.30,"kl":0.18,"kh":0.42,"r":0.28,"rl":0.12,"rh":0.42,"b":0.28,"bl":0.22,"bh":0.34},
{"m":"tibant","x":100,"k":0.38,"kl":0.25,"kh":0.50,"r":0.35,"rl":0.18,"rh":0.50,"b":0.45,"bl":0.38,"bh":0.50}
]},
"facet":{"field":"m","type":"nominal","sort":["glutmed","glutmax","addlong","tenfaslat","sart","bsemi","bicepfem","rectfem","vastmed","vastlat","medgas","latgas","sol","perlong","tibant"],"header":{"title":null,"labelFont":"Liberation Sans","labelFontSize":11,"labelFontWeight":"bold","labelColor":"#000000","labelPadding":0}},
"columns":5,
"spacing":{"row":0,"column":1},
"spec":{
"width":93,"height":84,
"encoding":{"x":{"field":"x","type":"quantitative","scale":{"domain":[0,100],"nice":false,"zero":false},"axis":{"values":[0,50,100],"title":"%gaitcycle","labelPadding":1,"titlePadding":1}}},
"layer":[
{"mark":{"type":"area","color":"#000000","opacity":0.15,"interpolate":"monotone"},"encoding":{"y":{"field":"kl","type":"quantitative","scale":{"domain":[0,1],"nice":false},"axis":{"values":[0,0.5,1],"format":"~g"},"title":null},"y2":{"field":"kh"}}},
{"mark":{"type":"area","color":"#ff0000","opacity":0.15,"interpolate":"monotone"},"encoding":{"y":{"field":"rl","type":"quantitative","title":null},"y2":{"field":"rh"}}},
{"mark":{"type":"area","color":"#0000ff","opacity":0.15,"interpolate":"monotone"},"encoding":{"y":{"field":"bl","type":"quantitative","title":null},"y2":{"field":"bh"}}},
{"mark":{"type":"line","color":"#000000","strokeWidth":0.6,"strokeDash":[2,1.5],"interpolate":"monotone"},"encoding":{"y":{"field":"kl","type":"quantitative","title":null}}},
{"mark":{"type":"line","color":"#000000","strokeWidth":0.6,"strokeDash":[2,1.5],"interpolate":"monotone"},"encoding":{"y":{"field":"kh","type":"quantitative","title":null}}},
{"mark":{"type":"line","color":"#ff0000","strokeWidth":0.6,"strokeDash":[2,1.5],"interpolate":"monotone"},"encoding":{"y":{"field":"rl","type":"quantitative","title":null}}},
{"mark":{"type":"line","color":"#ff0000","strokeWidth":0.6,"strokeDash":[2,1.5],"interpolate":"monotone"},"encoding":{"y":{"field":"rh","type":"quantitative","title":null}}},
{"mark":{"type":"line","color":"#0000ff","strokeWidth":0.6,"strokeDash":[2,1.5],"interpolate":"monotone"},"encoding":{"y":{"field":"bl","type":"quantitative","title":null}}},
{"mark":{"type":"line","color":"#0000ff","strokeWidth":0.6,"strokeDash":[2,1.5],"interpolate":"monotone"},"encoding":{"y":{"field":"bh","type":"quantitative","title":null}}},
{"mark":{"type":"line","color":"#000000","strokeWidth":3,"interpolate":"monotone"},"encoding":{"y":{"field":"k","type":"quantitative","title":null}}},
{"mark":{"type":"line","color":"#ff0000","strokeWidth":3.8,"interpolate":"monotone"},"encoding":{"y":{"field":"r","type":"quantitative","title":null}}},
{"mark":{"type":"line","color":"#0000ff","strokeWidth":3.8,"interpolate":"monotone"},"encoding":{"y":{"field":"b","type":"quantitative","title":null}}}
]
},
"resolve":{"axis":{"x":"independent","y":"independent"}},
"config":{
"view":{"stroke":"#262626","strokeWidth":0.8},
"axis":{"labelFont":"Liberation Sans","labelFontSize":11,"labelColor":"#3a3a3a","domain":false,"ticks":false,"grid":false,"labelFlush":false,"labelOverlap":false,"labelBound":false,"labelPadding":3,"titleFont":"Liberation Sans","titleFontSize":6,"titleFontWeight":"normal","titleColor":"#404040","titlePadding":2}
}
}
